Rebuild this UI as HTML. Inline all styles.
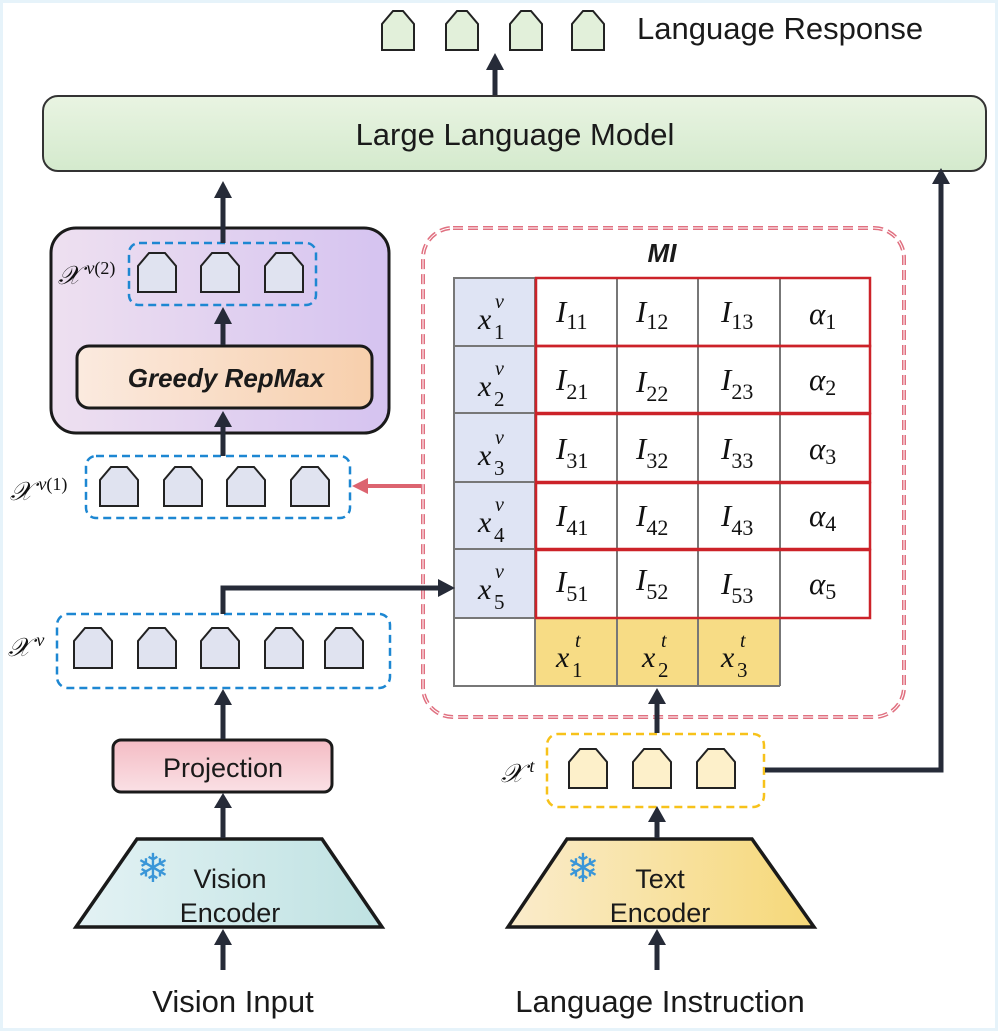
<!DOCTYPE html>
<html><head><meta charset="utf-8"><style>
html,body{margin:0;padding:0;background:#fff}
svg{display:block}
.t{font-family:"Liberation Sans",sans-serif;fill:#1a1a1a}
.m{font-family:"Liberation Serif",serif;font-style:italic;fill:#111}
.n{font-family:"Liberation Serif",serif;font-style:normal;fill:#111}
</style></head><body>
<svg width="998" height="1031" viewBox="0 0 998 1031" xmlns="http://www.w3.org/2000/svg">
<defs>
<linearGradient id="gLLM" x1="0" y1="0" x2="0" y2="1"><stop offset="0" stop-color="#e9f4e2"/><stop offset="1" stop-color="#d4eacd"/></linearGradient>
<linearGradient id="gPur" x1="0" y1="0" x2="1" y2="0"><stop offset="0" stop-color="#eee0f0"/><stop offset="1" stop-color="#d5c3f0"/></linearGradient>
<linearGradient id="gPea" x1="0" y1="0" x2="1" y2="0"><stop offset="0" stop-color="#fbeadf"/><stop offset="1" stop-color="#f7cfac"/></linearGradient>
<linearGradient id="gPro" x1="0" y1="0" x2="0" y2="1"><stop offset="0" stop-color="#f4bcc4"/><stop offset="1" stop-color="#fae0e5"/></linearGradient>
<linearGradient id="gVis" x1="0" y1="0" x2="1" y2="0"><stop offset="0" stop-color="#e3f2f4"/><stop offset="1" stop-color="#bfe2e2"/></linearGradient>
<linearGradient id="gTxt" x1="0" y1="0" x2="1" y2="0"><stop offset="0" stop-color="#faeccc"/><stop offset="1" stop-color="#f6d878"/></linearGradient>
</defs>
<rect x="1.5" y="1.5" width="995" height="1028" fill="#fff" stroke="#e6f3fa" stroke-width="3"/>

<!-- top tokens -->
<g fill="#e2f0da" stroke="#222" stroke-width="2">
<path d="M382,50 V24 L393,11 H403 L414,24 V50 Z"/>
<path d="M446,50 V24 L457,11 H467 L478,24 V50 Z"/>
<path d="M510,50 V24 L521,11 H531 L542,24 V50 Z"/>
<path d="M572,50 V24 L583,11 H593 L604,24 V50 Z"/>
</g>
<text class="t" x="637" y="39" font-size="31">Language Response</text>

<!-- LLM -->
<rect x="43" y="96" width="943" height="75" rx="15" fill="url(#gLLM)" stroke="#333" stroke-width="2"/>
<text class="t" x="515" y="145" font-size="31" text-anchor="middle">Large Language Model</text>

<!-- purple box -->
<rect x="51" y="228" width="338" height="205" rx="25" fill="url(#gPur)" stroke="#1a1a1a" stroke-width="3"/>
<rect x="129" y="243" width="187" height="62" rx="10" fill="none" stroke="#1d87d2" stroke-width="2.5" stroke-dasharray="8,5"/>
<g fill="#e0e3f0" stroke="#222" stroke-width="2">
<path d="M138,292 V266 L149,253 H165 L176,266 V292 Z"/>
<path d="M201,292 V266 L212,253 H228 L239,266 V292 Z"/>
<path d="M265,292 V266 L276,253 H292 L303,266 V292 Z"/>
</g>
<text class="m" x="58" y="284" font-size="26">𝒳<tspan font-size="18" dx="6" dy="-10">v</tspan><tspan class="n" font-size="18">(2)</tspan></text>
<rect x="77" y="346" width="295" height="62" rx="12" fill="url(#gPea)" stroke="#1a1a1a" stroke-width="3"/>
<text class="t" x="226" y="387" font-size="26" font-style="italic" font-weight="bold" text-anchor="middle" fill="#333">Greedy RepMax</text>

<!-- Xv1 -->
<rect x="86" y="456" width="264" height="62" rx="10" fill="none" stroke="#1d87d2" stroke-width="2.5" stroke-dasharray="8,5"/>
<g fill="#e0e3f0" stroke="#222" stroke-width="2">
<path d="M100,506 V480 L111,467 H127 L138,480 V506 Z"/>
<path d="M164,506 V480 L175,467 H191 L202,480 V506 Z"/>
<path d="M227,506 V480 L238,467 H254 L265,480 V506 Z"/>
<path d="M291,506 V480 L302,467 H318 L329,480 V506 Z"/>
</g>
<text class="m" x="10" y="500" font-size="26">𝒳<tspan font-size="18" dx="6" dy="-10">v</tspan><tspan class="n" font-size="18">(1)</tspan></text>
<line x1="421" y1="486" x2="365" y2="486" stroke="#dc6470" stroke-width="4"/>
<path d="M368,478 L352,486 L368,494 Z" fill="#dc6470"/>

<!-- MI box -->
<rect x="423" y="228" width="481" height="489" rx="30" fill="none" stroke="#e07080" stroke-width="4" stroke-dasharray="10,5"/>
<rect x="423" y="228" width="481" height="489" rx="30" fill="none" stroke="#fff" stroke-width="1" stroke-dasharray="10,5"/>
<text class="t" x="662" y="262" font-size="26" font-style="italic" font-weight="bold" text-anchor="middle">MI</text>

<!-- table -->
<rect x="454" y="278" width="81" height="340" fill="#dfe4f4"/>
<rect x="535" y="618" width="245" height="68" fill="#f7dc85"/>
<g stroke="#777" stroke-width="2" fill="none">
<rect x="454" y="278" width="81" height="408"/>
<line x1="454" y1="346" x2="535" y2="346"/><line x1="454" y1="413" x2="535" y2="413"/>
<line x1="454" y1="482" x2="535" y2="482"/><line x1="454" y1="549" x2="535" y2="549"/>
<line x1="454" y1="618" x2="780" y2="618"/>
<line x1="535" y1="618" x2="535" y2="686"/><line x1="617" y1="278" x2="617" y2="686"/>
<line x1="698" y1="278" x2="698" y2="686"/><line x1="780" y1="278" x2="780" y2="686"/>
<line x1="535" y1="686" x2="780" y2="686"/>
</g>
<g stroke="#cc2229" stroke-width="2.5" fill="none">
<rect x="536" y="278" width="334" height="68"/>
<rect x="536" y="346" width="334" height="67"/>
<rect x="536" y="414" width="334" height="68"/>
<rect x="536" y="483" width="334" height="66"/>
<rect x="536" y="550" width="334" height="68"/>
</g>
<g font-size="30">
<text class="m" x="478" y="329">x</text><text class="n" x="494" y="339" font-size="21">1</text><text class="m" x="495" y="308" font-size="20">v</text>
<text class="m" x="478" y="396">x</text><text class="n" x="494" y="406" font-size="21">2</text><text class="m" x="495" y="375" font-size="20">v</text>
<text class="m" x="478" y="465">x</text><text class="n" x="494" y="475" font-size="21">3</text><text class="m" x="495" y="444" font-size="20">v</text>
<text class="m" x="478" y="532">x</text><text class="n" x="494" y="542" font-size="21">4</text><text class="m" x="495" y="511" font-size="20">v</text>
<text class="m" x="478" y="599">x</text><text class="n" x="494" y="609" font-size="21">5</text><text class="m" x="495" y="578" font-size="20">v</text>
<text class="m" x="556" y="667">x</text><text class="n" x="572" y="677" font-size="21">1</text><text class="m" x="575" y="647" font-size="20">t</text>
<text class="m" x="642" y="667">x</text><text class="n" x="658" y="677" font-size="21">2</text><text class="m" x="661" y="647" font-size="20">t</text>
<text class="m" x="721" y="667">x</text><text class="n" x="737" y="677" font-size="21">3</text><text class="m" x="740" y="647" font-size="20">t</text>
</g>
<g font-size="31">
<text class="m" x="556" y="322">I<tspan class="n" font-size="22" dy="7">11</tspan></text>
<text class="m" x="636" y="322">I<tspan class="n" font-size="22" dy="7">12</tspan></text>
<text class="m" x="721" y="322">I<tspan class="n" font-size="22" dy="7">13</tspan></text>
<text class="m" x="809" y="324">α<tspan class="n" font-size="22" dy="5">1</tspan></text>
<text class="m" x="556" y="390">I<tspan class="n" font-size="22" dy="9">21</tspan></text>
<text class="m" x="636" y="392">I<tspan class="n" font-size="22" dy="9">22</tspan></text>
<text class="m" x="721" y="390">I<tspan class="n" font-size="22" dy="9">23</tspan></text>
<text class="m" x="809" y="390">α<tspan class="n" font-size="22" dy="5">2</tspan></text>
<text class="m" x="556" y="459">I<tspan class="n" font-size="22" dy="9">31</tspan></text>
<text class="m" x="636" y="459">I<tspan class="n" font-size="22" dy="9">32</tspan></text>
<text class="m" x="721" y="459">I<tspan class="n" font-size="22" dy="9">33</tspan></text>
<text class="m" x="809" y="459">α<tspan class="n" font-size="22" dy="5">3</tspan></text>
<text class="m" x="556" y="526">I<tspan class="n" font-size="22" dy="9">41</tspan></text>
<text class="m" x="636" y="526">I<tspan class="n" font-size="22" dy="9">42</tspan></text>
<text class="m" x="721" y="526">I<tspan class="n" font-size="22" dy="9">43</tspan></text>
<text class="m" x="809" y="526">α<tspan class="n" font-size="22" dy="5">4</tspan></text>
<text class="m" x="556" y="592">I<tspan class="n" font-size="22" dy="9">51</tspan></text>
<text class="m" x="636" y="590">I<tspan class="n" font-size="22" dy="9">52</tspan></text>
<text class="m" x="721" y="594">I<tspan class="n" font-size="22" dy="9">53</tspan></text>
<text class="m" x="809" y="594">α<tspan class="n" font-size="22" dy="5">5</tspan></text>
</g>

<!-- Xv -->
<rect x="57" y="614" width="333" height="74" rx="11" fill="none" stroke="#1d87d2" stroke-width="2.5" stroke-dasharray="8,5"/>
<g fill="#e0e3f0" stroke="#222" stroke-width="2">
<path d="M74,668 V641 L85,628 H101 L112,641 V668 Z"/>
<path d="M138,668 V641 L149,628 H165 L176,641 V668 Z"/>
<path d="M201,668 V641 L212,628 H228 L239,641 V668 Z"/>
<path d="M265,668 V641 L276,628 H292 L303,641 V668 Z"/>
<path d="M325,668 V641 L336,628 H352 L363,641 V668 Z"/>
</g>
<text class="m" x="8" y="656" font-size="26">𝒳<tspan font-size="18" dx="6" dy="-10">v</tspan></text>

<!-- Projection -->
<rect x="113" y="740" width="219" height="52" rx="8" fill="url(#gPro)" stroke="#1a1a1a" stroke-width="3"/>
<text class="t" x="223" y="777" font-size="27" text-anchor="middle">Projection</text>

<!-- Vision encoder -->
<path d="M137,839 H322 L382,927 H76 Z" fill="url(#gVis)" stroke="#1a1a1a" stroke-width="3.5"/>
<text x="153" y="882" font-size="40" fill="#3a96d8" text-anchor="middle" font-family="DejaVu Sans">❄</text>
<text class="t" x="230" y="888" font-size="27" text-anchor="middle">Vision</text>
<text class="t" x="230" y="922" font-size="27" text-anchor="middle">Encoder</text>
<text class="t" x="233" y="1012" font-size="31" text-anchor="middle">Vision Input</text>

<!-- Xt -->
<rect x="547" y="734" width="217" height="73" rx="11" fill="none" stroke="#f7c21a" stroke-width="2.5" stroke-dasharray="8,5"/>
<g fill="#fdf0ca" stroke="#222" stroke-width="2">
<path d="M569,788 V762 L580,749 H596 L607,762 V788 Z"/>
<path d="M633,788 V762 L644,749 H660 L671,762 V788 Z"/>
<path d="M697,788 V762 L708,749 H724 L735,762 V788 Z"/>
</g>
<text class="m" x="501" y="782" font-size="26">𝒳<tspan font-size="18" dx="6" dy="-10">t</tspan></text>

<!-- Text encoder -->
<path d="M567,839 H752 L814,927 H508 Z" fill="url(#gTxt)" stroke="#1a1a1a" stroke-width="3.5"/>
<text x="583" y="882" font-size="40" fill="#3a96d8" text-anchor="middle" font-family="DejaVu Sans">❄</text>
<text class="t" x="660" y="888" font-size="27" text-anchor="middle">Text</text>
<text class="t" x="660" y="922" font-size="27" text-anchor="middle">Encoder</text>
<text class="t" x="660" y="1012" font-size="31" text-anchor="middle">Language Instruction</text>

<!-- arrows dark (on top) -->
<g stroke="#262b38" stroke-width="5" fill="none">
<line x1="495" y1="95" x2="495" y2="68"/>
<line x1="223" y1="243" x2="223" y2="195"/>
<line x1="223" y1="345" x2="223" y2="322"/>
<line x1="223" y1="456" x2="223" y2="425"/>
<polyline points="223,614 223,588 440,588"/>
<line x1="223" y1="739" x2="223" y2="703"/>
<line x1="223" y1="838" x2="223" y2="806"/>
<line x1="223" y1="970" x2="223" y2="943"/>
<line x1="657" y1="733" x2="657" y2="702"/>
<line x1="657" y1="838" x2="657" y2="820"/>
<line x1="657" y1="970" x2="657" y2="943"/>
<polyline points="765,770 941,770 941,182"/>
</g>
<g fill="#262b38">
<path d="M486,70 L495,53 L504,70 Z"/>
<path d="M214,198 L223,181 L232,198 Z"/>
<path d="M214,324 L223,307 L232,324 Z"/>
<path d="M214,427 L223,411 L232,427 Z"/>
<path d="M438,579 L455,588 L438,597 Z"/>
<path d="M214,705 L223,689 L232,705 Z"/>
<path d="M214,808 L223,793 L232,808 Z"/>
<path d="M214,945 L223,929 L232,945 Z"/>
<path d="M648,704 L657,688 L666,704 Z"/>
<path d="M648,822 L657,806 L666,822 Z"/>
<path d="M648,945 L657,929 L666,945 Z"/>
<path d="M932,184 L941,168 L950,184 Z"/>
</g>
</svg>
</body></html>
